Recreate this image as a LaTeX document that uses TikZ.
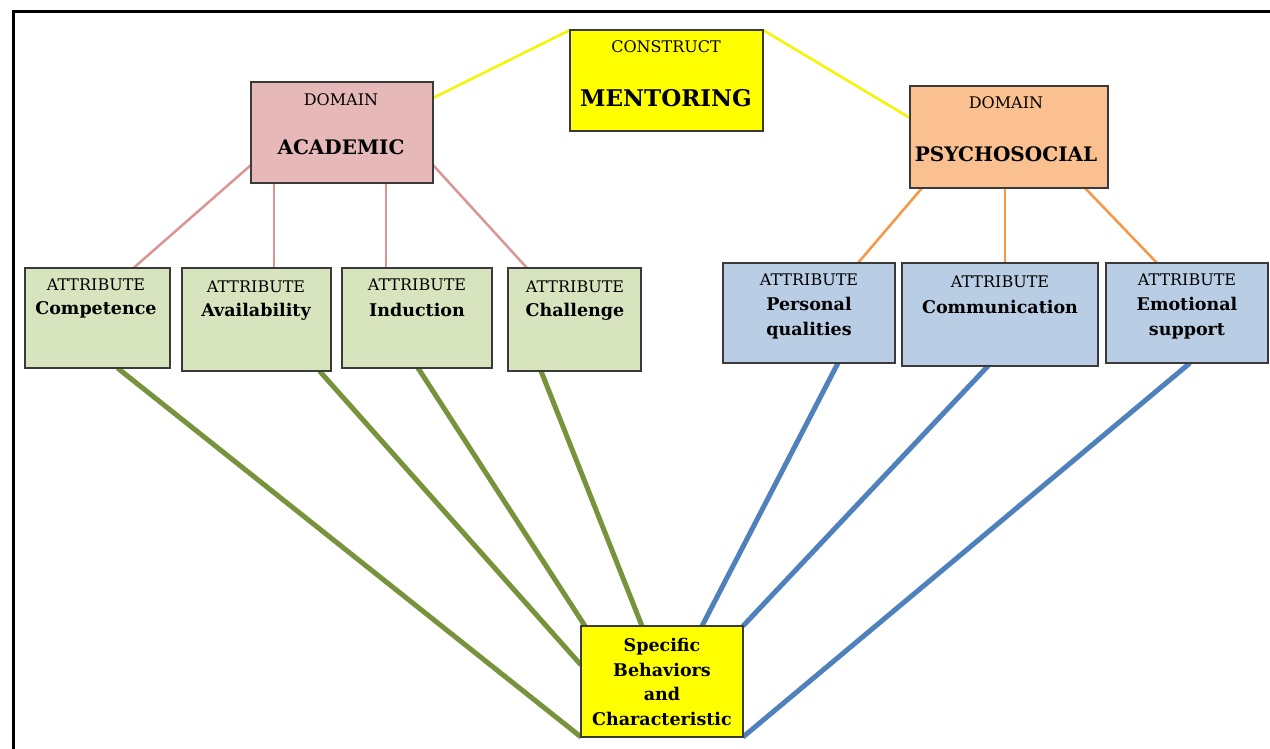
\documentclass[tikz,border=0pt]{standalone}
\usepackage{fontspec}
\setmainfont{DejaVu Serif}
\usetikzlibrary{calc}
\definecolor{pinkfill}{HTML}{E6B9B8}
\definecolor{pinkline}{HTML}{D99694}
\definecolor{orangefill}{HTML}{FAC090}
\definecolor{orangeline}{HTML}{F79646}
\definecolor{greenfill}{HTML}{D7E4BD}
\definecolor{greenline}{HTML}{77933C}
\definecolor{bluefill}{HTML}{B9CDE5}
\definecolor{blueline}{HTML}{4F81BD}
\definecolor{ylw}{HTML}{FFFF00}
\definecolor{ylwline}{HTML}{F5F500}
\definecolor{boxline}{HTML}{3A3A3A}
\pgfdeclarelayer{back}
\pgfdeclarelayer{bg}
\pgfsetlayers{back,bg,main}
\tikzset{
  box/.style={rectangle, draw=boxline, line width=1.3pt, inner sep=0pt, outer sep=0pt},
  small/.style={font=\fontsize{16}{18}\selectfont, inner sep=0pt},
  big/.style={font=\fontsize{20}{22}\selectfont\bfseries, inner sep=0pt},
  attr/.style={font=\fontsize{16}{18}\selectfont, inner sep=0pt},
  attrname/.style={font=\fontsize{17.5}{25}\selectfont\bfseries, inner sep=0pt, align=center},
  ylink/.style={draw=ylwline, line width=2.5pt},
  plink/.style={draw=pinkline, line width=2.5pt},
  olink/.style={draw=orangeline, line width=2.5pt},
  glink/.style={draw=greenline, line width=5pt},
  blink/.style={draw=blueline, line width=5pt}
}
\begin{document}
\begin{tikzpicture}[x=1pt,y=-1pt]
\useasboundingbox (0,0) rectangle (1270,749);
\begin{pgfonlayer}{back}
\fill[white] (0,0) rectangle (1270,749);
\end{pgfonlayer}
\draw[line width=3pt] (13,749) -- (13,12) -- (1270,12);

% boxes
\node[box, fill=ylw, minimum width=193pt, minimum height=101pt] (construct) at (666.5,80.5) {};
\node[box, fill=pinkfill, minimum width=182pt, minimum height=101pt] (acad) at (342,132.5) {};
\node[box, fill=orangefill, minimum width=198pt, minimum height=102pt] (psy) at (1009,137) {};
\node[box, fill=greenfill, minimum width=145pt, minimum height=100pt] (comp) at (97.5,318) {};
\node[box, fill=greenfill, minimum width=149pt, minimum height=103pt] (avail) at (256.5,319.5) {};
\node[box, fill=greenfill, minimum width=150pt, minimum height=100pt] (induc) at (417,318) {};
\node[box, fill=greenfill, minimum width=133pt, minimum height=103pt] (chall) at (574.5,319.5) {};
\node[box, fill=bluefill, minimum width=172pt, minimum height=100pt] (pers) at (809,313) {};
\node[box, fill=bluefill, minimum width=196pt, minimum height=103pt] (comm) at (1000,314.5) {};
\node[box, fill=bluefill, minimum width=162pt, minimum height=100pt] (emot) at (1187,313) {};
\node[box, fill=ylw, minimum width=162pt, minimum height=111pt] (spec) at (662,681.5) {};

% texts
\node[small] (t-construct) at (666,47) {CONSTRUCT};
\node[font=\fontsize{23}{26}\selectfont\bfseries, inner sep=0pt] (t-mentoring) at (666,98) {MENTORING};
\node[small] (t-dom1) at (341,100) {DOMAIN};
\node[big] (t-acad) at (341,147) {ACADEMIC};
\node[small] (t-dom2) at (1006,103) {DOMAIN};
\node[big] (t-psy) at (1006,154) {PSYCHOSOCIAL};

\node[attr] (a1) at (96,285) {ATTRIBUTE};
\node[attrname] (n1) at (96,310) {Competence};
\node[attr] (a2) at (256,287) {ATTRIBUTE};
\node[attrname] (n2) at (256,312) {Availability};
\node[attr] (a3) at (417,285) {ATTRIBUTE};
\node[attrname] (n3) at (417,310) {Induction};
\node[attr] (a4) at (575,287) {ATTRIBUTE};
\node[attrname] (n4) at (575,312) {Challenge};
\node[attr] (a5) at (809,280) {ATTRIBUTE};
\node[attrname] (n5) at (809,318) {Personal\\qualities};
\node[attr] (a6) at (1000,282) {ATTRIBUTE};
\node[attrname] (n6) at (1000,307) {Communication};
\node[attr] (a7) at (1187,280) {ATTRIBUTE};
\node[attrname] (n7) at (1187,318) {Emotional\\support};
\node[attrname, font=\fontsize{17.5}{24.5}\selectfont\bfseries] (t-spec) at (662,682) {Specific\\Behaviors\\and\\Characteristic};

% connectors
\begin{pgfonlayer}{bg}
\draw[ylink] ($(acad.north east)+(0,16)$) -- (construct.north west);
\draw[ylink] (construct.north east) -- ($(psy.north west)+(0,32)$);

\draw[plink] ($(acad.south west)+(0,-18)$) -- ($(comp.north)+(36,0)$);
\draw[plink] ($(acad.south west)+(23,0)$) -- ($(avail.north)+(17.5,0)$);
\draw[plink] ($(acad.south east)+(-47,0)$) -- ($(induc.north)+(-31,0)$);
\draw[plink] ($(acad.south east)+(0,-18)$) -- ($(chall.north)+(-47.5,0)$);

\draw[olink] ($(psy.south west)+(12,0)$) -- ($(pers.north)+(49,0)$);
\draw[olink] ($(psy.south)+(-4,0)$) -- ($(comm.north)+(5,0)$);
\draw[olink] ($(psy.south east)+(-23,0)$) -- ($(emot.north)+(-30,0)$);

\draw[glink] ($(comp.south)+(20,0)$) -- (spec.south west);
\draw[glink] ($(avail.south)+(63,0)$) -- ($(spec.north west)+(0,39)$);
\draw[glink] ($(induc.south)+(1,0)$) -- ($(spec.north west)+(4,0)$);
\draw[glink] ($(chall.south)+(-33.5,0)$) -- ($(spec.north)+(-20,0)$);

\draw[blink] ($(pers.south)+(29,0)$) -- ($(spec.north)+(40,0)$);
\draw[blink] ($(comm.south)+(-12,0)$) -- (spec.north east);
\draw[blink] ($(emot.south)+(3,0)$) -- (spec.south east);
\end{pgfonlayer}
\end{tikzpicture}
\end{document}
